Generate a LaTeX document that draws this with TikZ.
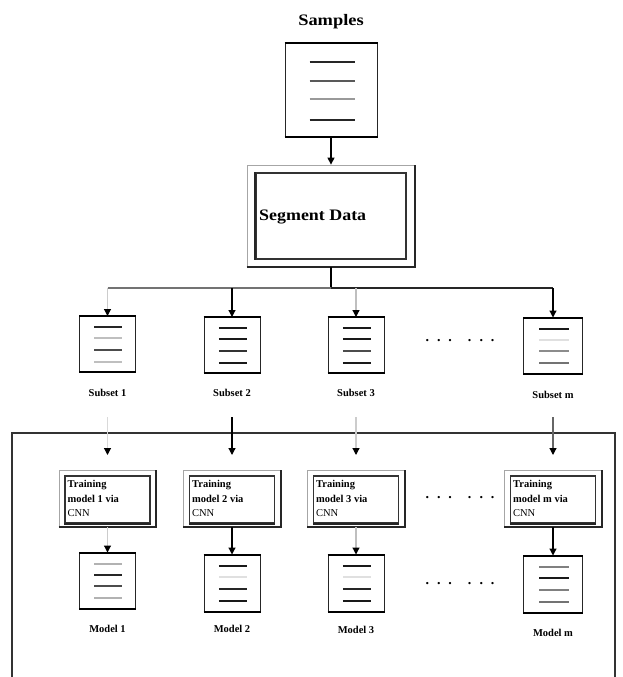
\documentclass[tikz,border=0pt]{standalone}
\usepackage{fontspec}
\setmainfont{Liberation Serif}
\usetikzlibrary{arrows.meta,calc}

\tikzset{
  arr/.style={-{Triangle[length=7pt,width=7pt,color=black]}, line width=1.2pt},
  docbox/.style={draw=black!85, line width=1pt, inner sep=0pt,
                 minimum width=56pt, minimum height=55pt},
  lbl/.style={font=\bfseries\fontsize{10.5}{12}\selectfont, inner sep=0pt},
  title/.style={font=\bfseries\fontsize{16}{18}\selectfont, inner sep=0pt},
  trout/.style={draw=black!35, line width=0.8pt, inner sep=0pt,
                minimum width=97pt, minimum height=57pt},
  trin/.style={draw=black!80, line width=1.1pt, inner sep=0pt,
               minimum width=85pt, minimum height=47pt},
  trtext/.style={font=\bfseries\fontsize{10.5}{14.5}\selectfont, align=left,
                 inner sep=0pt, anchor=north west},
  dotrow/.style={font=\bfseries\fontsize{14}{14}\selectfont, inner sep=0pt},
}

% thick top and bottom edges of a document box
\newcommand\docedges[1]{%
  \draw[line width=2pt] (#1.north west) -- (#1.north east);
  \draw[line width=2pt] (#1.south west) -- (#1.south east);}

% four text lines inside a document box, one colour each
\newcommand\doclines[5]{%
  \foreach \f/\c in {0.2/#2,0.4/#3,0.6/#4,0.82/#5}{%
    \draw[line width=2.1pt, draw=\c]
      ($ ($(#1.north west)!0.27!(#1.north east)$) !\f! ($(#1.south west)!0.27!(#1.south east)$) $)
      -- ($ ($(#1.north west)!0.76!(#1.north east)$) !\f! ($(#1.south west)!0.76!(#1.south east)$) $);}}

% outer frame of a training box: light top/left, heavy bottom/right
\newcommand\tredges[1]{%
  \draw[line width=2pt, black!85] (#1.south west) -- (#1.south east) -- (#1.north east);}

\newcommand\ellipsisrow{\makebox[11.5pt]{.}\makebox[11.5pt]{.}\makebox[11.5pt]{.}\hspace{8pt}\makebox[11.5pt]{.}\makebox[11.5pt]{.}\makebox[11.5pt]{.}}

\begin{document}
\begin{tikzpicture}[x=1pt,y=-1pt]
\path[use as bounding box] (0,0) rectangle (622,677);

% ---- source data ----
\node[title] (samplesT) at (331,22) {\scalebox{1.15}[1]{Samples}};
\node[docbox, minimum width=92pt, minimum height=92pt] (smp) at (331,90) {};
\docedges{smp}
\doclines{smp}{black!85}{black!65}{black!40}{black!85}

% ---- segmentation step ----
\node[draw=black!35, line width=0.8pt, minimum width=168pt, minimum height=102pt, inner sep=0pt] (seg) at (331,216) {};
\draw[line width=2pt, black!85] (seg.south west) -- (seg.south east) -- (seg.north east);
\node[draw=black!80, line width=1.1pt, minimum width=150pt, minimum height=86pt, inner sep=0pt] (segin) at (331,216) {};
\draw[line width=2pt, black!85] (segin.north west) -- (segin.south west);
\node[title, anchor=west] (segT) at (259,217) {\scalebox{1.12}[1]{Segment Data}};

\draw[arr] (smp.south) -- (seg.north);

% ---- split into subsets ----
\coordinate (bus) at (331,288);
\coordinate (b1) at (107.5,288);
\coordinate (b2) at (232,288);
\coordinate (b3) at (356,288);
\coordinate (bm) at (553,288);
\draw[line width=1.3pt] (seg.south) -- (bus);
\draw[line width=1.2pt, black!55] (b1) -- (bus);
\draw[line width=1.3pt, black!85] (bus) -- (bm);

\node[docbox] (s1) at (107.5,344) {};
\node[docbox] (s2) at (232,345) {};
\node[docbox] (s3) at (356,345) {};
\node[docbox, minimum width=59pt] (sm) at (553,345.5) {};
\foreach \n in {s1,s2,s3,sm}{\docedges{\n}}
\doclines{s1}{black!85}{black!25}{black!70}{black!25}
\doclines{s2}{black!90}{black!90}{black!80}{black!90}
\doclines{s3}{black!90}{black!90}{black!70}{black!90}
\doclines{sm}{black!90}{black!12}{black!45}{black!55}

\draw[arr, draw=black!20] (b1) -- (s1.north);
\draw[arr] (b2) -- (s2.north);
\draw[arr, draw=black!25] (b3) -- (s3.north);
\draw[arr] (bm) -- (sm.north);

\node[lbl] (s1l) at (107.5,393) {Subset 1};
\node[lbl] (s2l) at (232,393) {Subset 2};
\node[lbl] (s3l) at (356,393) {Subset 3};
\node[lbl] (sml) at (553,395) {Subset m};
\node[dotrow] (dots1) at (460,341) {\ellipsisrow};

% ---- training stage ----
\draw[line width=1.6pt, black!80] (12,677) -- (12,433) -- (615,433) -- (615,677);

\foreach \c/\x in {1/107.5,2/232,3/356,m/553}{
  \coordinate (in\c) at (\x,417);
  \coordinate (tip\c) at (\x,455);
}
\draw[arr, draw=black!15] (in1) -- (tip1);
\draw[arr] (in2) -- (tip2);
\draw[arr, draw=black!20] (in3) -- (tip3);
\draw[arr, draw=black!60] (inm) -- (tipm);

\foreach \c/\x in {1/107.5,2/232,3/356,m/553}{
  \node[trout] (t\c) at (\x,498.5) {};
  \tredges{t\c}
  \node[trin] (ti\c) at (\x,499.5) {};
  \draw[line width=2pt, black!85] (ti\c.south west) -- (ti\c.south east);
  \node[trtext] (tt\c) at ($(ti\c.north west)+(3,5)$) {Training\\model \c{} via\\\mdseries CNN};
}
\node[dotrow] (dots2) at (460,498) {\ellipsisrow};

% ---- resulting models ----
\node[docbox] (m1) at (107.5,580.5) {};
\node[docbox, minimum height=56pt] (m2) at (232,583) {};
\node[docbox, minimum height=56pt] (m3) at (356,583) {};
\node[docbox, minimum width=59pt, minimum height=56pt] (mm) at (553,584) {};
\foreach \n in {m1,m2,m3,mm}{\docedges{\n}}
\doclines{m1}{black!30}{black!85}{black!70}{black!30}
\doclines{m2}{black!90}{black!12}{black!85}{black!90}
\doclines{m3}{black!90}{black!12}{black!85}{black!90}
\doclines{mm}{black!50}{black!90}{black!50}{black!55}

\draw[arr, draw=black!20] (t1.south) -- (m1.north);
\draw[arr] (t2.south) -- (m2.north);
\draw[arr, draw=black!25] (t3.south) -- (m3.north);
\draw[arr] (tm.south) -- (mm.north);

\node[lbl] (m1l) at (107.5,629) {Model 1};
\node[lbl] (m2l) at (232,629) {Model 2};
\node[lbl] (m3l) at (356,630) {Model 3};
\node[lbl] (mml) at (553,633) {Model m};
\node[dotrow] (dots3) at (460,584) {\ellipsisrow};
\end{tikzpicture}
\end{document}
